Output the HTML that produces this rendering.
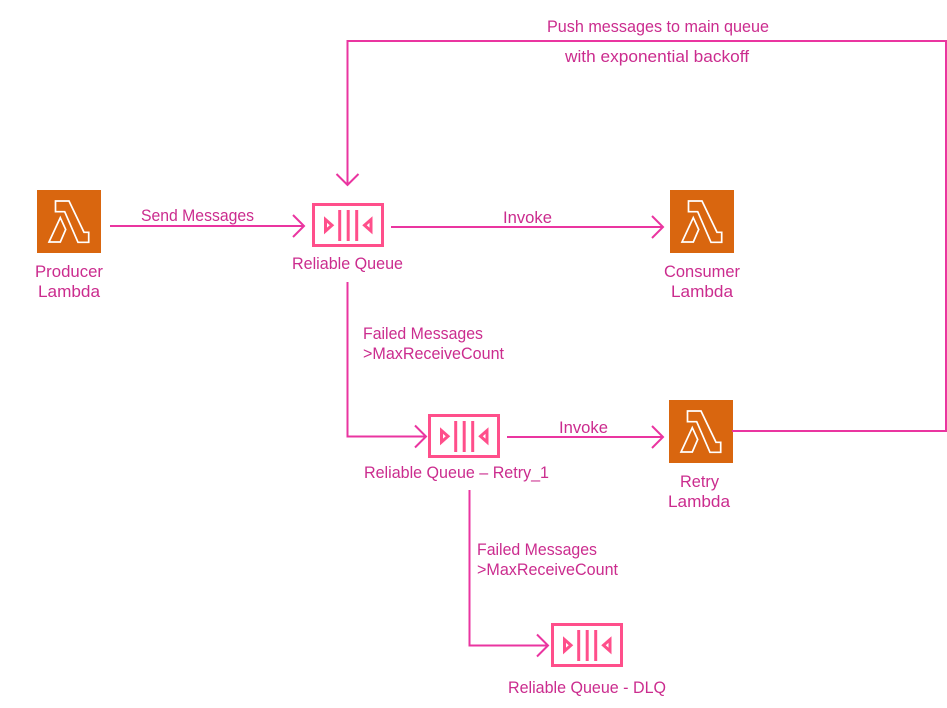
<!DOCTYPE html>
<html><head><meta charset="utf-8"><style>
html,body{margin:0;padding:0;background:#fff}
svg{display:block}
text{font-family:"Liberation Sans",sans-serif;font-size:17px;fill:#cb2c8e}
.l{fill:none;stroke:#ea35a0;stroke-width:2}
.q{fill:none;stroke:#ff4f8b;stroke-width:3}
.t{fill:none;stroke:#ff4f8b;stroke-width:3}
</style></head><body>
<svg width="947" height="708" viewBox="0 0 947 708" xmlns="http://www.w3.org/2000/svg">
<defs>
<g id="lam">
<rect width="64" height="63" fill="#d9660f"/>
<path d="M18.5 11H32L47 42.3H51.7V52.3H41L27.7 21.7H18.5Z M23.3 27.7L28.7 39.5L23.3 52H12Z" fill="none" stroke="#fff" stroke-width="1.7"/>
</g>
<g id="que">
<rect x="1.5" y="1.5" width="69" height="41" class="q"/>
<path d="M27.700 7V38M36.200 7V38M44.700 7V38" class="q"/>
<path d="M13.500 16.500V28L20 22.200Z M59 16.500V28L52.500 22.200Z" class="t"/>
</g>
</defs>
<use href="#lam" x="37" y="190"/>
<use href="#lam" x="670" y="190"/>
<use href="#lam" x="669" y="400"/>
<use href="#que" x="312" y="203"/>
<use href="#que" x="428" y="414"/>
<use href="#que" x="551" y="623"/>
<path class="l" d="M110 226H304M293 215L304 226L293 237"/>
<path class="l" d="M391 227H663M652 216L663 227L652 238"/>
<path class="l" d="M347.500 282V436.500H426M415 425.500L426 436.500L415 447.500"/>
<path class="l" d="M507 437H663M652 426L663 437L652 448"/>
<path class="l" d="M469.500 490V645.500H548M537 634.500L548 645.500L537 656.500"/>
<path class="l" d="M732 431H946V41H347.500V185M336.500 174L347.500 185L358.500 174"/>
<text x="547" y="32" textLength="222" lengthAdjust="spacingAndGlyphs">Push messages to main queue</text>
<text x="565" y="62" textLength="184" lengthAdjust="spacingAndGlyphs">with exponential backoff</text>
<text x="141" y="221" textLength="113" lengthAdjust="spacingAndGlyphs">Send Messages</text>
<text x="503" y="223" textLength="49" lengthAdjust="spacingAndGlyphs">Invoke</text>
<text x="559" y="433" textLength="49" lengthAdjust="spacingAndGlyphs">Invoke</text>
<text x="35" y="277" textLength="68" lengthAdjust="spacingAndGlyphs">Producer</text>
<text x="38" y="297" textLength="62" lengthAdjust="spacingAndGlyphs">Lambda</text>
<text x="292" y="269" textLength="111" lengthAdjust="spacingAndGlyphs">Reliable Queue</text>
<text x="664" y="277" textLength="76" lengthAdjust="spacingAndGlyphs">Consumer</text>
<text x="671" y="297" textLength="62" lengthAdjust="spacingAndGlyphs">Lambda</text>
<text x="363" y="339" textLength="120" lengthAdjust="spacingAndGlyphs">Failed Messages</text>
<text x="363" y="359" textLength="141" lengthAdjust="spacingAndGlyphs">&gt;MaxReceiveCount</text>
<text x="364" y="478" textLength="185" lengthAdjust="spacingAndGlyphs">Reliable Queue – Retry_1</text>
<text x="680" y="487" textLength="39" lengthAdjust="spacingAndGlyphs">Retry</text>
<text x="668" y="507" textLength="62" lengthAdjust="spacingAndGlyphs">Lambda</text>
<text x="477" y="555" textLength="120" lengthAdjust="spacingAndGlyphs">Failed Messages</text>
<text x="477" y="575" textLength="141" lengthAdjust="spacingAndGlyphs">&gt;MaxReceiveCount</text>
<text x="508" y="693" textLength="158" lengthAdjust="spacingAndGlyphs">Reliable Queue - DLQ</text>
</svg>
</body></html>
